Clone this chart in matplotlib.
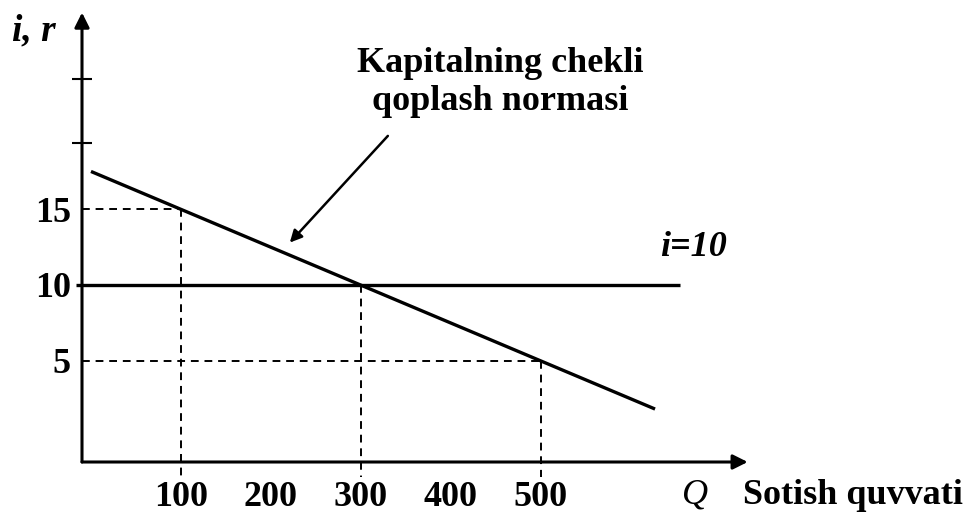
import numpy as np
import matplotlib
matplotlib.use("Agg")
import matplotlib.pyplot as plt

# data
q_ticks = [100, 200, 300, 400, 500]
q_labels = ["100", "200", "300", "400", "500"]
rate_ticks = [5, 10, 15]
rate_labels = ["5", "10", "15"]
extra_rate_ticks = [19.4, 23.6]      # unlabeled marks on the vertical axis
plain_q_ticks = [200, 400]           # solid tick marks on Q axis

# marginal rate of return on capital (straight line)
mrr_q = [0, 627]
mrr_r = [17.5, 1.8]

# interest rate i = 10
i_q = [-17, 655]
i_r = [10, 10]

# guide points (Q, r) with dashed projections
guide_q = [100, 300, 500]
guide_r = [15, 10, 5]

xmin, xmax = -10, 727
ymin, ymax = -1.7, 28.5

serif = "Liberation Serif"
fs = 26

fig = plt.figure(figsize=(9.72, 5.17), dpi=100)
ax = fig.add_axes([82 / 972, (517 - 462) / 517, 663 / 972, 457 / 517])
ax.set_xlim(xmin, xmax)
ax.set_ylim(ymin, ymax)
for s in ax.spines.values():
    s.set_visible(False)

# axes with arrows
ax.annotate("", xy=(xmax + 3, ymin), xytext=(xmin, ymin),
            arrowprops=dict(arrowstyle="-|>", lw=2.2, color="black",
                            mutation_scale=22, shrinkA=0, shrinkB=0),
            annotation_clip=False)
ax.annotate("", xy=(xmin, 28.0), xytext=(xmin, ymin),
            arrowprops=dict(arrowstyle="-|>", lw=2.2, color="black",
                            mutation_scale=22, shrinkA=0, shrinkB=0),
            annotation_clip=False)

# dashed projections
for q, r in zip(guide_q, guide_r):
    if r != 10:
        ax.plot([xmin, q], [r, r], ls=(0, (4, 3)), color="black", lw=1.4, clip_on=False)
    ax.plot([q, q], [r, ymin - 1.0], ls=(0, (4, 3)), color="black", lw=1.4, clip_on=False)

# main lines
ax.plot(mrr_q, mrr_r, color="black", lw=2.4, solid_capstyle="butt")
ax.plot(i_q, i_r, color="black", lw=2.4, solid_capstyle="butt", clip_on=False)

# ticks
ax.set_xticks(q_ticks)
ax.set_xticklabels(q_labels)
ax.set_xticks(plain_q_ticks, minor=True)
ax.tick_params(axis="x", which="major", length=0, pad=14)
ax.tick_params(axis="x", which="minor", direction="inout", length=16, width=1.5)
ax.set_yticks(rate_ticks)
ax.set_yticklabels(rate_labels)
ax.set_yticks(extra_rate_ticks, minor=True)
ax.tick_params(axis="y", which="major", length=0, pad=8)
ax.tick_params(axis="y", which="minor", direction="inout", length=14, width=1.5)
for lab in ax.get_xticklabels() + ax.get_yticklabels():
    lab.set_fontfamily(serif)
    lab.set_fontweight("bold")
    lab.set_fontsize(fs)

# texts
ax.text(-64, 26.8, "i, r", fontfamily=serif, fontweight="bold",
        fontstyle="italic", fontsize=fs + 1, ha="center", va="center", clip_on=False)
ax.text(670, 12.5, "i=10", fontfamily=serif, fontweight="bold",
        fontstyle="italic", fontsize=fs, ha="center", va="center", clip_on=False)
ax.text(672, -3.9, "Q", fontfamily=serif, fontstyle="italic",
        fontsize=fs, ha="center", va="center", clip_on=False)
ax.text(725, -3.9, "Sotish quvvati", fontfamily=serif, fontweight="bold",
        fontsize=fs, ha="left", va="center", clip_on=False)
ax.text(455, 23.4, "Kapitalning chekli\nqoplash normasi", fontfamily=serif,
        fontweight="bold", fontsize=fs, ha="center", va="center",
        linespacing=1.2)
ax.annotate("", xy=(221, 12.8), xytext=(330, 19.85),
            arrowprops=dict(arrowstyle="-|>", lw=1.8, color="black",
                            mutation_scale=18, shrinkA=0, shrinkB=0))

fig.savefig("out.png", dpi=100)
